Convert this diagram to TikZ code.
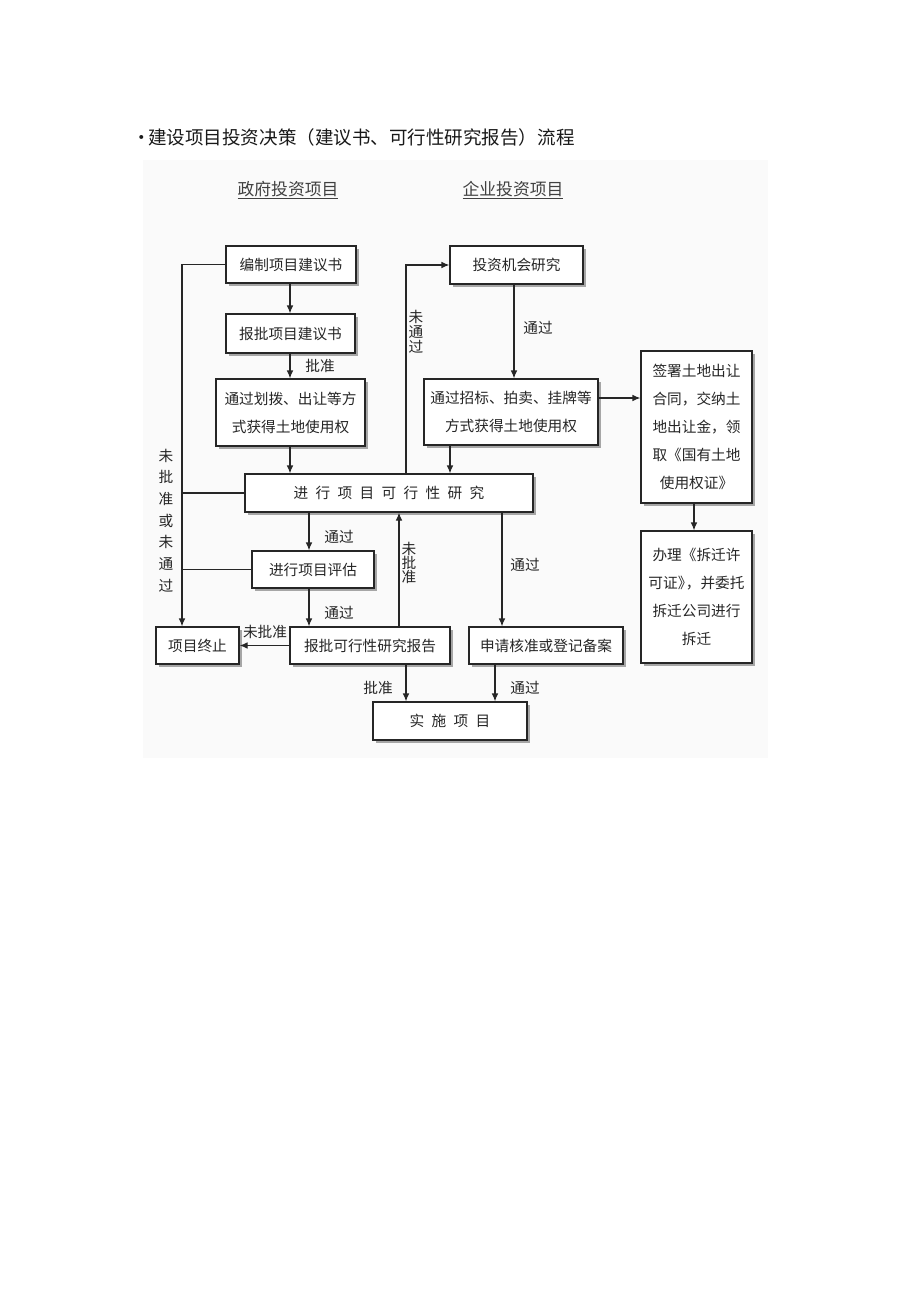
\documentclass[tikz,border=0pt]{standalone}
\usepackage{fontspec}
\setmainfont{Noto Sans CJK SC}
\usetikzlibrary{arrows.meta,shadows,calc}
\newcommand\mkbox[6]{\node[bx, minimum width=#4*0.75pt, minimum height=#5*0.75pt] (#1) at (#2,#3) {#6};}
\begin{document}
\begin{tikzpicture}[x=0.75pt,y=-0.75pt,
  bx/.style={draw=black!85, line width=0.9pt, fill=white, inner sep=0pt, align=center,
    font=\fontsize{11}{21}\selectfont, text=black!85,
    drop shadow={shadow xshift=2pt,shadow yshift=-2pt,fill=black!35,opacity=1}},
  arr/.style={draw=black!85, line width=0.9pt, -{Latex[length=6pt,width=5pt]}},
  ln/.style={draw=black!85, line width=0.9pt},
  lab/.style={font=\fontsize{11}{12}\selectfont, text=black!85, inner sep=0pt},
  vlab/.style={lab, align=center},
  hd/.style={font=\fontsize{12.6}{14}\selectfont, text=black!75, inner sep=0pt}]
\useasboundingbox (0,0) rectangle (920,1302);
\fill[white] (0,0) rectangle (920,1302);
\fill[black!2] (143,160) rectangle (768,758);

\node[anchor=west, font=\fontsize{13.9}{16}\selectfont, text=black!90, inner sep=0pt] (title) at (132,137) {·\kern-1.9pt 建设项目投资决策（建议书、可行性研究报告）流程};

\node[hd] (h1) at (288,190) {\underline{政府投资项目}};
\node[hd] (h2) at (513,190) {\underline{企业投资项目}};

\mkbox{b1}{291}{264.5}{130}{37}{编制项目建议书}
\mkbox{b2}{290.5}{333.5}{129}{39}{报批项目建议书}
\mkbox{b3}{290.5}{412.5}{149}{67}{通过划拨、出让等方\\式获得土地使用权}
\mkbox{c1}{516.5}{265}{133}{38}{投资机会研究}
\mkbox{c2}{511}{412}{174}{66}{通过招标、拍卖、挂牌等\\方式获得土地使用权}
\mkbox{f}{389}{493}{288}{38}{进\enspace 行\enspace 项\enspace 目\enspace 可\enspace 行\enspace 性\enspace 研\enspace 究}
\mkbox{e}{313}{569.5}{122}{37}{进行项目评估}
\mkbox{t}{197.5}{645.5}{83}{37}{项目终止}
\mkbox{r}{370}{645.5}{160}{37}{报批可行性研究报告}
\mkbox{s}{546}{645.5}{154}{37}{申请核准或登记备案}
\mkbox{i}{450}{721}{154}{38}{实\enspace 施\enspace 项\enspace 目}
\mkbox{d1}{696.5}{427}{111}{152}{签署土地出让\\合同，交纳土\\地出让金，领\\取《国有土地\\使用权证》}
\mkbox{d2}{696.5}{597}{111}{132}{办理《拆迁许\\可证》\kern-0.45em，并委托\\拆迁公司进行\\拆迁}

% left government column
\draw[arr] (b1.south -| 290,0) -- (b2.north -| 290,0);
\draw[arr] (b2.south -| 290,0) -- (b3.north -| 290,0);
\node[lab] (l1) at (320,366) {批准};
\draw[arr] (b3.south -| 290,0) -- (f.north -| 290,0);

% enterprise column
\draw[arr] (c1.south -| 514,0) -- (c2.north -| 514,0);
\node[lab] (l2) at (538,328) {通过};
\draw[arr] (c2.south -| 450,0) -- (f.north -| 450,0);
\draw[arr] (f.north -| 406,0) |- (c1.west);
\node[vlab, font=\fontsize{11}{11.25}\selectfont] (l3) at (416,332) {未\\通\\过};
\draw[arr] (c2.east |- 0,398) -- (d1.west |- 0,398);
\draw[arr] (d1.south -| 694,0) -- (d2.north -| 694,0);

% left loop to termination
\draw[arr] (b1.west) -| (t.north -| 182,0);
\draw[ln] (f.west) -- (f.west -| 182,0);
\draw[ln] (e.west) -- (e.west -| 182,0);
\node[vlab, font=\fontsize{11}{16.3}\selectfont] (l4) at (166,520.5) {未\\批\\准\\或\\未\\通\\过};

% feasibility flow
\draw[arr] (f.south -| 309,0) -- (e.north -| 309,0);
\node[lab] (l5) at (339,537) {通过};
\draw[arr] (e.south -| 309,0) -- (r.north -| 309,0);
\node[lab] (l6) at (339,613) {通过};
\draw[arr] (r.west) -- (t.east);
\node[lab] (l7) at (265,632) {未批准};
\draw[arr] (r.north -| 399,0) -- (f.south -| 399,0);
\node[vlab, font=\fontsize{11}{10.5}\selectfont] (l8) at (409,563) {未\\批\\准};
\draw[arr] (f.south -| 502,0) -- (s.north -| 502,0);
\node[lab] (l9) at (525,565) {通过};
\draw[arr] (r.south -| 406,0) -- (i.north -| 406,0);
\node[lab] (l10) at (378,688) {批准};
\draw[arr] (s.south -| 495,0) -- (i.north -| 495,0);
\node[lab] (l11) at (525,688) {通过};
\end{tikzpicture}
\end{document}
